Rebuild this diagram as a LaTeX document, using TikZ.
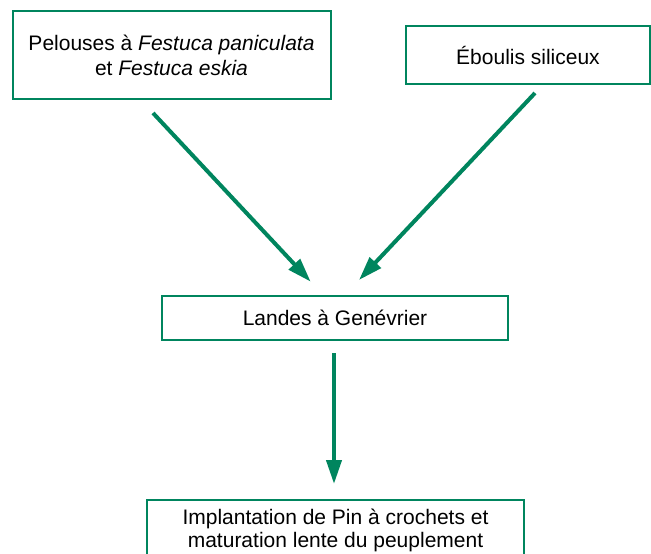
\documentclass[tikz,border=0pt]{standalone}
\usepackage{fontspec}
\setmainfont{Liberation Sans}
\usetikzlibrary{arrows.meta}
\definecolor{vert}{RGB}{0,133,94}
\begin{document}
\begin{tikzpicture}[x=1pt, y=-1pt, every node/.style={font=\fontsize{21}{25}\selectfont},
    boite/.style={draw=vert, line width=2pt, align=center, inner sep=0pt},
    fleche/.style={draw=vert, line width=4pt, -{Triangle[length=24pt,width=15pt]}}]
    \useasboundingbox (0,0) rectangle (651,554);
    \node[boite, minimum width=318pt, minimum height=88.6pt] (pelouses) at (171.5,55)
        {Pelouses à \textit{Festuca paniculata}\\et \textit{Festuca eskia}};
    \node[boite, minimum width=244pt, minimum height=58pt] (eboulis) at (528,55)
        {Éboulis siliceux};
    \node[boite, minimum width=346pt, minimum height=44pt] (landes) at (335,318)
        {Landes à Genévrier};
    \node[boite, font=\fontsize{21}{23}\selectfont, minimum width=377pt, minimum height=60pt] (pin) at (335.5,530)
        {Implantation de Pin à crochets et\\maturation lente du peuplement};
    % fleches
    \coordinate (d1) at (153,113);
    \coordinate (a1) at (310.7,281.7);
    \coordinate (d2) at (535,93);
    \coordinate (a2) at (359,280);
    \coordinate (d3) at (334,353);
    \coordinate (a3) at (334,484);
    \draw[fleche] (d1) -- (a1);
    \draw[fleche] (d2) -- (a2);
    \draw[fleche] (d3) -- (a3);
\end{tikzpicture}
\end{document}
